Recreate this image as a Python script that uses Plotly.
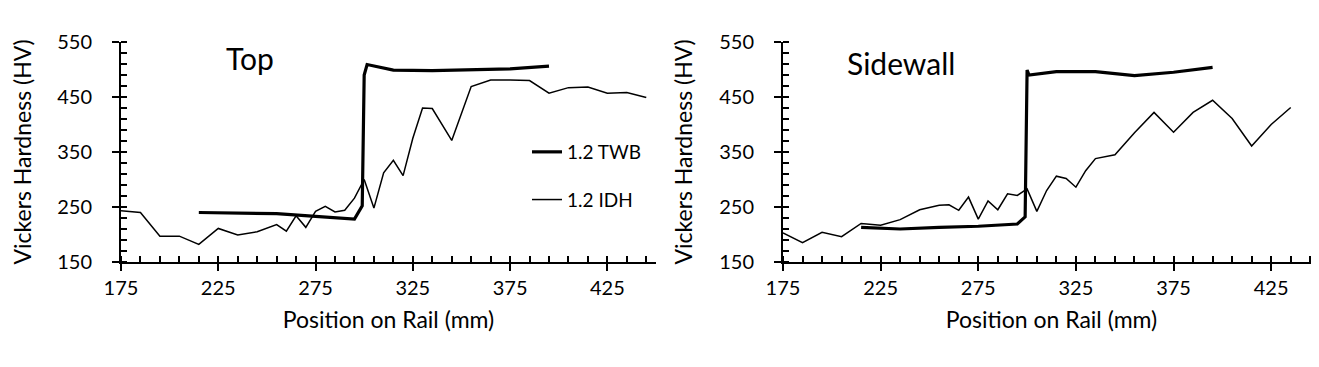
import plotly.graph_objects as go
from plotly.subplots import make_subplots

# ---- data ----
top_idh_x = [175, 185, 195, 205, 215, 225, 235, 245, 255, 260, 265, 270, 275, 280, 285, 290, 295, 300,
             305, 310, 315, 320, 325, 330, 335, 345, 355, 365, 375, 385, 395, 405, 415, 425, 435, 445]
top_idh_y = [243, 240, 197, 197, 182, 211, 199, 205, 218, 206, 234, 213, 242, 251, 241, 244, 266, 300,
             248, 312, 335, 307, 375, 430, 429, 371, 469, 481, 481, 480, 457, 467, 468, 457, 458, 449]

top_twb_x = [215, 235, 255, 275, 295, 299, 300, 301.5, 315, 335, 355, 375, 395]
top_twb_y = [240, 239, 238, 233, 228, 252, 490, 509, 499, 498, 499, 501, 506]

side_idh_x = [175, 185, 195, 205, 215, 225, 235, 245, 255, 260, 265, 270, 275, 280, 285, 290, 295, 300,
              305, 310, 315, 320, 325, 330, 335, 345, 355, 365, 375, 385, 395, 405, 415, 425, 435]
side_idh_y = [203, 185, 204, 196, 220, 217, 227, 245, 253, 254, 244, 268, 228, 261, 245, 274, 271, 283,
              242, 280, 306, 302, 286, 316, 338, 345, 385, 422, 386, 422, 444, 411, 361, 400, 431]

side_twb_x = [215, 235, 255, 275, 295, 299, 300, 301, 315, 335, 355, 375, 395]
side_twb_y = [213, 210, 213, 215, 219, 232, 499, 490, 496, 496, 489, 495, 504]

panel_titles = ["Top", "Sidewall"]
series_names = ["1.2 TWB", "1.2 IDH"]
x_title = "Position on Rail (mm)"
y_title = "Vickers Hardness (HV)"

FONT = "Lato"
W, H = 1319, 367
ML, MR, MT, MB = 113, 7, 34, 113
PW = W - ML - MR

fig = make_subplots(rows=1, cols=2)

fig.add_trace(go.Scatter(x=top_twb_x, y=top_twb_y, mode="lines", name=series_names[0],
                         line=dict(color="black", width=3.2), legendgroup="a", showlegend=True),
              row=1, col=1)
fig.add_trace(go.Scatter(x=top_idh_x, y=top_idh_y, mode="lines", name=series_names[1],
                         line=dict(color="black", width=1.5), legendgroup="b", showlegend=True),
              row=1, col=1)
fig.add_trace(go.Scatter(x=side_twb_x, y=side_twb_y, mode="lines", name=series_names[0],
                         line=dict(color="black", width=3.2), legendgroup="a", showlegend=False),
              row=1, col=2)
fig.add_trace(go.Scatter(x=side_idh_x, y=side_idh_y, mode="lines", name=series_names[1],
                         line=dict(color="black", width=1.5), legendgroup="b", showlegend=False),
              row=1, col=2)

xdom = [[0, 535 / PW], [(775 - ML) / PW, 1.0]]

xcommon = dict(range=[175, 450], tick0=175, dtick=50, ticks="outside", ticklen=7, tickwidth=2,
               tickcolor="black", showline=True, linecolor="black", linewidth=2,
               showgrid=False, zeroline=False,
               minor=dict(tick0=175, dtick=10, ticks="inside", ticklen=6, tickwidth=2, tickcolor="black"),
               tickfont=dict(family=FONT, size=20, color="black"),
               title=dict(text=x_title, font=dict(family=FONT, size=23, color="black"), standoff=14))
ycommon = dict(range=[150, 550], tick0=150, dtick=100, ticks="outside", ticklen=7, tickwidth=2,
               tickcolor="black", showline=True, linecolor="black", linewidth=2,
               showgrid=False, zeroline=False, ticklabelstandoff=16,
               minor=dict(tick0=150, dtick=20, ticks="inside", ticklen=6, tickwidth=2, tickcolor="black"),
               tickfont=dict(family=FONT, size=20, color="black"),
               title=dict(text=y_title, font=dict(family=FONT, size=23, color="black"), standoff=20))

fig.update_layout(
    xaxis=dict(domain=xdom[0], **xcommon),
    xaxis2=dict(domain=xdom[1], **xcommon),
    yaxis=dict(domain=[0, 1], **ycommon),
    yaxis2=dict(domain=[0, 1], **ycommon),
)

fig.add_annotation(text=panel_titles[0], xref="x domain", yref="y domain", x=(216 - ML) / 535, y=0.925,
                   xanchor="left", yanchor="middle", showarrow=False,
                   font=dict(family=FONT, size=30, color="black"))
fig.add_annotation(text=panel_titles[1], xref="x2 domain", yref="y2 domain", x=(837 - 775) / 537, y=0.905,
                   xanchor="left", yanchor="middle", showarrow=False,
                   font=dict(family=FONT, size=30, color="black"))

fig.update_layout(
    width=W, height=H,
    margin=dict(l=ML, r=MR, t=MT, b=MB, autoexpand=False),
    paper_bgcolor="white", plot_bgcolor="white",
    font=dict(family=FONT, color="black"),
    legend=dict(x=(519 - ML) / PW, y=(254 - 125) / 220, xanchor="left", yanchor="top",
                bgcolor="rgba(0,0,0,0)", font=dict(family=FONT, size=19, color="black"),
                tracegroupgap=20, traceorder="grouped"),
)

fig.write_html("out.html")
